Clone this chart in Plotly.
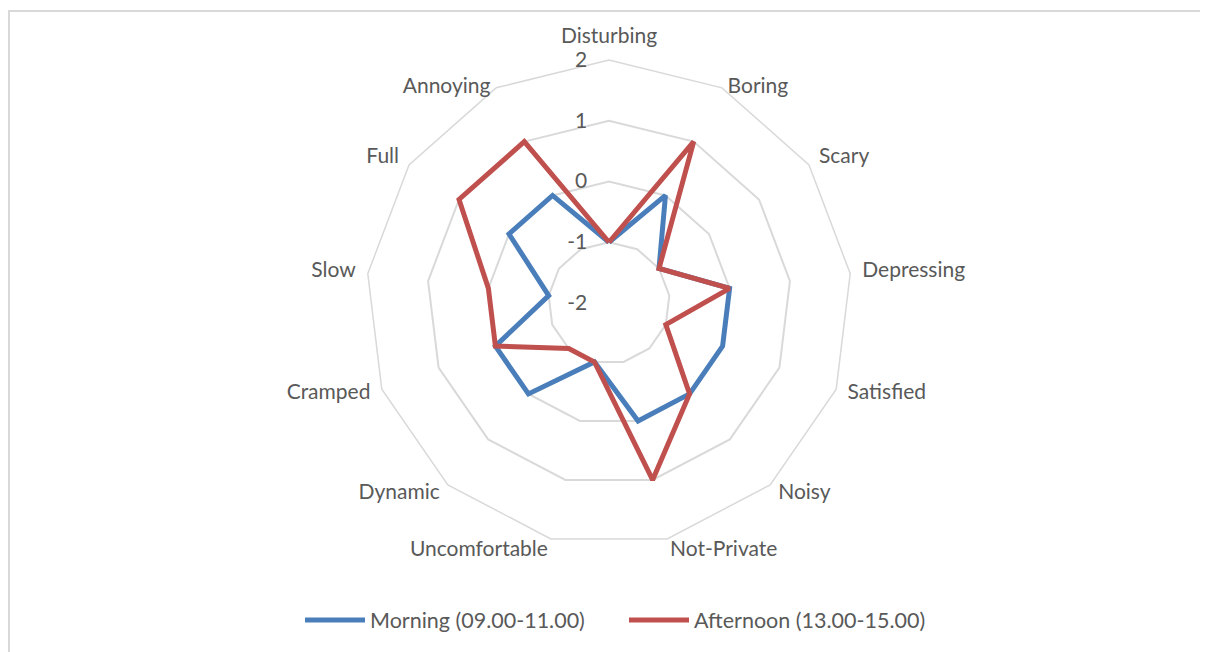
import plotly.graph_objects as go

# categories clockwise from the top
categories = ["Disturbing", "Boring", "Scary", "Depressing", "Satisfied", "Noisy",
              "Not-Private", "Uncomfortable", "Dynamic", "Cramped", "Slow", "Full", "Annoying"]

morning = [-1, 0, -1, 0, 0, 0, 0, -1, 0, 0, -1, 0, 0]
afternoon = [-1, 1, -1, 0, -1, 0, 1, -1, -1, 0, 0, 1, 1]

radial_ticks = [-2, -1, 0, 1, 2]
radial_tick_labels = ["-2", "-1", "0", "1", "2"]

# page body has an 8px margin, so work in figure coords = screen - 8
OFF = 8
W, H = 1208 - OFF, 652 - OFF
cx, cy = 609 - OFF, 303 - OFF
half = 243  # half size of the polar domain

# labels sit a bit outside the outer ring; a second, invisible polar with a
# wider range (and proportionally wider domain) carries them
label_r = 2.2
half2 = half * (label_r + 2) / 4


def dom(h):
    return dict(x=[(cx - h) / W, (cx + h) / W], y=[1 - (cy + h) / H, 1 - (cy - h) / H])


fig = go.Figure()

# close the loops by repeating the first point
fig.add_trace(go.Scatterpolar(r=morning + morning[:1], theta=categories + categories[:1],
                              mode="lines", name="Morning (09.00-11.00)",
                              line=dict(color="#4A7EBB", width=5)))
fig.add_trace(go.Scatterpolar(r=afternoon + afternoon[:1], theta=categories + categories[:1],
                              mode="lines", name="Afternoon (13.00-15.00)",
                              line=dict(color="#C0504D", width=5)))

n = len(categories)
label_pos = []
for i in range(n):
    if i == 0:
        label_pos.append("top center")
    elif i == 1:
        label_pos.append("bottom right")
    elif i == n - 1:
        label_pos.append("bottom left")
    elif i <= n // 2:
        label_pos.append("middle right")
    else:
        label_pos.append("middle left")
fig.add_trace(go.Scatterpolar(r=[label_r] * n, theta=categories, mode="text", text=categories,
                              textposition=label_pos, cliponaxis=False, showlegend=False,
                              hoverinfo="skip", subplot="polar2",
                              textfont=dict(size=21, color="#595959")))

fig.update_layout(
    width=W, height=H,
    margin=dict(l=0, r=0, t=0, b=0),
    paper_bgcolor="white",
    font=dict(family="Lato, Open Sans, sans-serif", size=21, color="#595959"),
    polar=dict(
        domain=dom(half),
        gridshape="linear",
        bgcolor="white",
        angularaxis=dict(rotation=90, direction="clockwise", categoryarray=categories,
                         showgrid=False, showline=True, linecolor="#D9D9D9", linewidth=1.5,
                         ticks="", showticklabels=False),
        radialaxis=dict(range=[-2, 2], tickvals=radial_ticks, ticktext=radial_tick_labels,
                        angle=90, showline=False, gridcolor="#D9D9D9", gridwidth=1.5,
                        ticks="outside", ticklen=14, tickcolor="rgba(0,0,0,0)",
                        tickangle=90, side="counterclockwise",
                        tickfont=dict(size=21, color="#595959")),
    ),
    polar2=dict(
        domain=dom(half2),
        gridshape="linear",
        bgcolor="rgba(0,0,0,0)",
        angularaxis=dict(rotation=90, direction="clockwise", categoryarray=categories,
                         showgrid=False, showline=False, ticks="", showticklabels=False),
        radialaxis=dict(range=[-2, label_r], showgrid=False, showline=False, ticks="",
                        showticklabels=False),
    ),
    legend=dict(orientation="h", x=(300 - OFF) / W, xanchor="left",
                y=1 - (620 - OFF) / H, yanchor="middle",
                entrywidth=249, entrywidthmode="pixels",
                font=dict(size=21.5, color="#595959"), itemwidth=60),
    shapes=[dict(type="rect", xref="paper", yref="paper",
                 x0=(9 - OFF) / W, x1=1.02, y0=-0.02, y1=1 - (11 - OFF) / H,
                 line=dict(color="#D9D9D9", width=2))],
)

fig.write_html("out.html")
